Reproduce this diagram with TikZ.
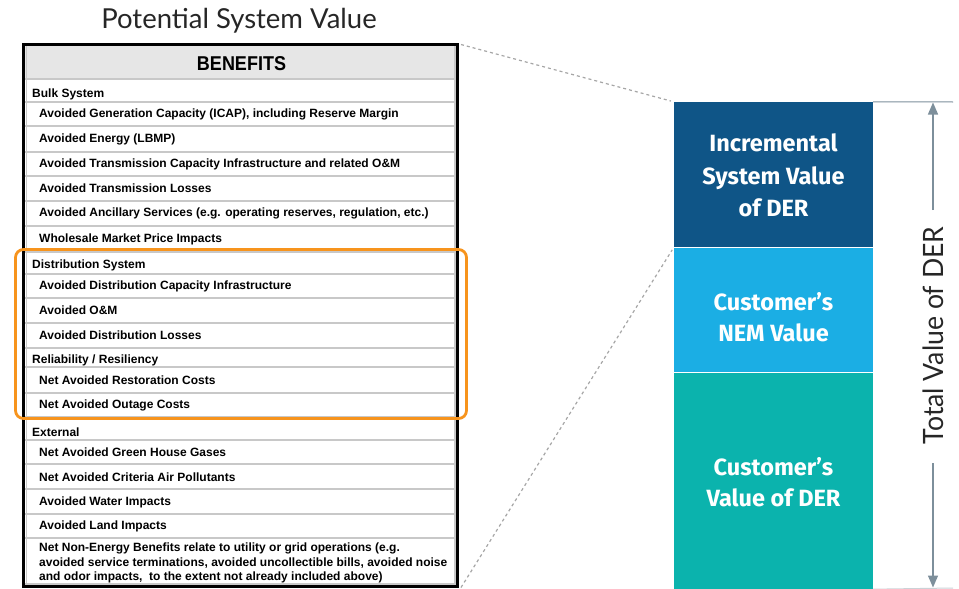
\documentclass[tikz,border=0pt]{standalone}
\usepackage{fontspec}
\usepackage{graphicx}
\setmainfont{Liberation Sans}
\newfontfamily\titlefont{Lato}
\newfontfamily\blockfont{Fira Sans}
\usetikzlibrary{arrows.meta}
\definecolor{hdrgray}{HTML}{E6E6E6}
\definecolor{rowgray}{HTML}{C8C8C8}
\definecolor{orangebox}{HTML}{F7941D}
\definecolor{darkblk}{HTML}{0F5587}
\definecolor{lightblk}{HTML}{1BAEE4}
\definecolor{tealblk}{HTML}{0BB3AD}
\definecolor{dashgray}{HTML}{A6A6A6}
\definecolor{arrgray}{HTML}{7D8F9B}
\definecolor{titlegray}{HTML}{262626}
\tikzset{
  rowline/.style={draw=rowgray, line width=1.8pt},
  itemtext/.style={anchor=west, inner sep=0pt, font=\fontsize{12}{14.5}\selectfont\bfseries, text=black},
  secttext/.style={anchor=west, inner sep=0pt, font=\fontsize{12}{14.5}\selectfont\bfseries, text=black},
  blockbox/.style={rectangle, inner sep=0pt, minimum width=199pt, draw=none},
  blocktext/.style={anchor=base, inner sep=0pt, text=white, font=\blockfont\fontsize{23.5}{30}\selectfont\bfseries},
  dashconn/.style={draw=dashgray, line width=1.2pt, dash pattern=on 3pt off 3pt},
  totarrow/.style={draw=arrgray, line width=1.4pt, -{Triangle[length=12pt,width=10pt]}},
}
\begin{document}
\begin{tikzpicture}[x=1pt,y=-1pt]
\useasboundingbox (0,0) rectangle (959,589);

% title
\node[inner sep=0pt, text=titlegray, font=\titlefont\fontsize{27.5}{30}\selectfont] (title) at (239,21) {Potential System Value};

% table background
\fill[hdrgray] (24,45) rectangle (457,78);
\draw[draw=rowgray, line width=2.5pt] (24,79) -- (457,79);
\foreach \yy in {102,126,152,176,201,226,252,274,298,323,348,367,393,417,440,464,489,514,538,584}
  \draw[rowline] (24,\yy) -- (457,\yy);
\draw[draw=rowgray, line width=1.2pt] (26.5,45) -- (26.5,586) (455,45) -- (455,586);
\draw[line width=2.6pt, black] (23.5,44.5) rectangle (457.5,586.5);

% header
\node[inner sep=0pt, font=\fontsize{20}{24}\selectfont\bfseries] (hdr) at (241.5,63.5) {\scalebox{0.9}[1]{BENEFITS}};

% sections and items
\node[secttext] (s1) at (32,94) {Bulk System};
\node[itemtext] (i1) at (39,114) {Avoided Generation Capacity (ICAP), including Reserve Margin};
\node[itemtext] (i2) at (39,139) {Avoided Energy (LBMP)};
\node[itemtext] (i3) at (39,164) {Avoided Transmission Capacity Infrastructure and related O\&M};
\node[itemtext] (i4) at (39,188.5) {Avoided Transmission Losses};
\node[itemtext] (i5) at (39,213.5) {Avoided Ancillary Services (e.g. operating reserves, regulation, etc.)};
\node[itemtext] (i6) at (39,239) {Wholesale Market Price Impacts};
\node[secttext] (s2) at (32,265.5) {Distribution System};
\node[itemtext] (i7) at (39,286.5) {Avoided Distribution Capacity Infrastructure};
\node[itemtext] (i8) at (39,310.5) {Avoided O\&M};
\node[itemtext] (i9) at (39,335.5) {Avoided Distribution Losses};
\node[secttext] (s3) at (32,360.5) {Reliability / Resiliency};
\node[itemtext] (i10) at (39,380.5) {Net Avoided Restoration Costs};
\node[itemtext] (i11) at (39,405.5) {Net Avoided Outage Costs};
\node[secttext] (s4) at (32,432.5) {External};
\node[itemtext] (i12) at (39,452.5) {Net Avoided Green House Gases};
\node[itemtext] (i13) at (39,477.5) {Net Avoided Criteria Air Pollutants};
\node[itemtext] (i14) at (39,502.5) {Avoided Water Impacts};
\node[itemtext] (i15) at (39,526.5) {Avoided Land Impacts};
\node[itemtext] (i16a) at (39,548.5) {Net Non-Energy Benefits relate to utility or grid operations (e.g.};
\node[itemtext] (i16b) at (39,563) {avoided service terminations, avoided uncollectible bills, avoided noise};
\node[itemtext] (i16c) at (39,577.5) {and odor impacts,\ \ to the extent not already included above)};

% orange highlight
\draw[orangebox, line width=2.8pt, rounded corners=8pt] (15.5,249.5) rectangle (466.5,418.5);

% blocks
\node[blockbox, fill=darkblk, minimum height=144.5pt] (incr) at (773.5,174.25) {};
\node[blockbox, fill=lightblk, minimum height=124.5pt] (nem) at (773.5,309.75) {};
\node[blockbox, fill=tealblk, minimum height=216pt] (cust) at (773.5,481) {};

\node[blocktext] (t1) at (773.5,151.5) {Incremental};
\node[blocktext] (t2) at (773.5,184) {System Value};
\node[blocktext] (t3) at (773.5,216.5) {of DER};
\node[blocktext] (t4) at (773.5,310.5) {Customer’s};
\node[blocktext] (t5) at (773.5,341.5) {NEM Value};
\node[blocktext] (t6) at (773.5,475.5) {Customer’s};
\node[blocktext] (t7) at (773.5,506.5) {Value of DER};

% dashed connectors
\coordinate (tblNE) at (461,44.5);
\coordinate (tblSE) at (461,587.5);
\draw[dashconn, shorten >=3pt] (tblNE) -- (incr.north west);
\draw[dashconn, shorten >=3pt] (tblSE) -- (nem.north west);

% total value indicator
\coordinate (topR) at (953,102);
\coordinate (botR) at (953,588);
\draw[draw=arrgray, line width=1pt] (incr.north east) -- (topR);
\draw[draw=arrgray!40, line width=1pt] (cust.south east) -- (botR);
\coordinate (upstart) at (933,210);
\coordinate (uptip) at (933,102.5);
\coordinate (dnstart) at (933,463);
\coordinate (dntip) at (933,587.5);
\draw[totarrow] (upstart) -- (uptip);
\draw[totarrow] (dnstart) -- (dntip);
\node[inner sep=0pt, rotate=90, text=titlegray, font=\titlefont\fontsize{28}{30}\selectfont] (total) at (933,335.5) {\scalebox{0.95}[1]{Total Value of DER}};
\end{tikzpicture}
\end{document}
